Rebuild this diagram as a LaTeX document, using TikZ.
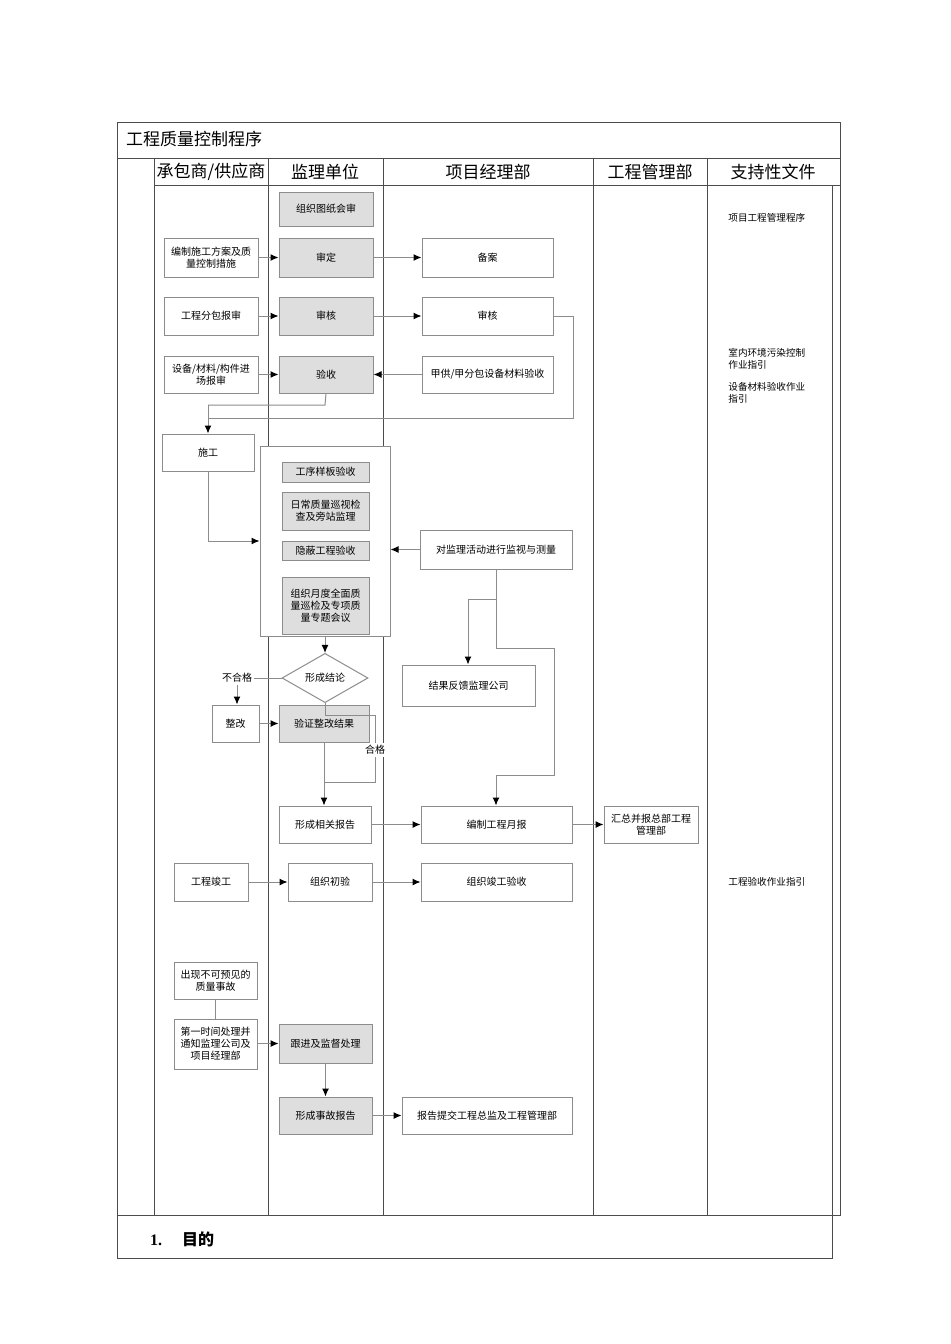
\documentclass[tikz,border=0pt]{standalone}
\usepackage{fontspec}
\setmainfont{Liberation Serif}
\newfontfamily\cjk{Noto Sans CJK SC}
\usetikzlibrary{shapes.geometric,arrows.meta}
\begin{document}
\begin{tikzpicture}[x=0.5pt,y=-0.5pt,
  frame/.style={draw=black!70,line width=0.5pt},
  bx/.style={draw=black!45,line width=0.5pt,fill=white,font=\cjk\fontsize{5}{6}\selectfont,align=center,inner sep=1pt},
  gbx/.style={bx,fill=black!13},
  hd/.style={font=\cjk\fontsize{8.5}{10}\selectfont},
  sup/.style={font=\cjk\fontsize{4.8}{6}\selectfont,align=left,anchor=north west,inner sep=0pt},
  ln/.style={draw=black!45,line width=0.5pt},
  ar/.style={ln,-{Latex[length=4pt,width=3.5pt,black]}}]
\useasboundingbox (0,0) rectangle (950,1344);
% frame
\draw[frame] (117,122) rectangle (840,1215);
\draw[frame] (117,158) -- (840,158);
\draw[frame] (154,185) -- (840,185);
\foreach \x in {154,268,383,593,707}{\draw[frame] (\x,158) -- (\x,1215);}
\draw[frame] (832,185) -- (832,1215);
\draw[frame] (117,1215) rectangle (832,1258);
\node[hd,anchor=west] (title) at (119,139) {工程质量控制程序};
\node[hd] (h1) at (211,172) {承包商/供应商};
\node[hd] (h2) at (325,172) {监理单位};
\node[hd] (h3) at (488,172) {项目经理部};
\node[hd] (h4) at (650,172) {工程管理部};
\node[hd] (h5) at (773,172) {支持性文件};
\node[anchor=west,font=\fontsize{8}{10}\selectfont\bfseries] (mu) at (143,1239) {1.\hspace{10pt}{\cjk 目的}};
% support docs
\node[sup] (s1) at (728,213) {项目工程管理程序};
\node[sup] (s2) at (728,348) {室内环境污染控制\\作业指引};
\node[sup] (s3) at (728,382) {设备材料验收作业\\指引};
\node[sup] (s4) at (728,877) {工程验收作业指引};
% nodes helper: corners
\def\bxat#1#2#3#4#5#6{\node[#1,minimum width=#4*0.5pt-#2*0.5pt,minimum height=#6*0.5pt-#5*0.5pt] (#3) at ({(#2+#4)/2},{(#5+#6)/2})}
\bxat{gbx}{279}{a1}{373}{192}{226} {组织图纸会审};
\bxat{bx}{164}{c1}{258}{238}{277} {编制施工方案及质\\量控制措施};
\bxat{gbx}{279}{a2}{373}{238}{277} {审定};
\bxat{bx}{422}{p1}{553}{238}{277} {备案};
\bxat{bx}{164}{c2}{258}{297}{335} {工程分包报审};
\bxat{gbx}{279}{a3}{373}{297}{335} {审核};
\bxat{bx}{422}{p2}{553}{297}{335} {审核};
\bxat{bx}{164}{c3}{258}{356}{393} {设备/材料/构件进\\场报审};
\bxat{gbx}{279}{a4}{373}{356}{393} {验收};
\bxat{bx}{422}{p3}{553}{356}{393} {甲供/甲分包设备材料验收};
\bxat{bx}{162}{c4}{254}{434}{471} {施工};
\bxat{bx}{260}{box}{390}{446}{636} {};
\bxat{gbx}{282}{b1}{369}{462}{482} {工序样板验收};
\bxat{gbx}{282}{b2}{369}{492}{530} {日常质量巡视检\\查及旁站监理};
\bxat{gbx}{282}{b3}{369}{541}{560} {隐蔽工程验收};
\bxat{gbx}{282}{b4}{369}{577}{634} {组织月度全面质\\量巡检及专项质\\量专题会议};
\bxat{bx}{420}{p4}{572}{530}{569} {对监理活动进行监视与测量};
\node[diamond,bx,minimum width=43pt,minimum height=18pt,inner sep=0pt] (d) at (325,678) {形成结论};
\node[font=\cjk\fontsize{5}{6}\selectfont,inner sep=1pt] (bhg) at (237,678) {不合格};
\bxat{bx}{212}{c5}{259}{705}{742} {整改};
\bxat{gbx}{279}{a5}{369}{705}{742} {验证整改结果};
\node[font=\cjk\fontsize{5}{6}\selectfont,inner sep=1pt,fill=white] (hg) at (375,750) {合格};
\bxat{bx}{402}{p5}{535}{665}{706} {结果反馈监理公司};
\bxat{bx}{279}{a6}{371}{806}{843} {形成相关报告};
\bxat{bx}{421}{p6}{572}{806}{843} {编制工程月报};
\bxat{bx}{604}{m1}{698}{806}{843} {汇总并报总部工程\\管理部};
\bxat{bx}{174}{c6}{248}{863}{901} {工程竣工};
\bxat{bx}{288}{a7}{372}{863}{901} {组织初验};
\bxat{bx}{421}{p7}{572}{863}{901} {组织竣工验收};
\bxat{bx}{174}{c7}{257}{962}{999} {出现不可预见的\\质量事故};
\bxat{bx}{174}{c8}{257}{1019}{1069} {第一时间处理并\\通知监理公司及\\项目经理部};
\bxat{gbx}{279}{a8}{372}{1024}{1063} {跟进及监督处理};
\bxat{gbx}{279}{a9}{372}{1097}{1134} {形成事故报告};
\bxat{bx}{402}{p8}{572}{1097}{1134} {报告提交工程总监及工程管理部};
% connectors
\draw[ar] (c1) -- (a2);
\draw[ar] (a2) -- (p1);
\draw[ar] (c2) -- (a3);
\draw[ar] (a3) -- (p2);
\draw[ar] (c3) -- (a4);
\draw[ar] (p3) -- (a4);
\draw[ln] (p2.east) -- (573,316) -- (573,418) -- (208,418);
\draw[ln] (a4.south) -- (325,405) -- (208,405);
\draw[ar] (208,405) -- (c4.north);
\draw[ar] (c4.south) |- (box.west);
\draw[ar] (p4.west) -- (box.east |- p4.west);
\draw[ar] (box.south) -- (d.north);
\draw[ln] (d.west) -- (bhg.east);
\draw[ar] (bhg.south) -- (c5.north -| bhg.south);
\draw[ar] (c5) -- (a5);
\draw[ln] (d.south) -- (325,715) -- (375,715) -- (hg.north);
\draw[ln] (hg.south) -- (375,782) -- (325,782);
\draw[ar] (a5.south) -- (a6.north -| a5.south);
\draw[ln] (p4.south) -- (496,599) -- (468,599);
\draw[ar] (468,599) -- (p5.north -| 468,0);
\draw[ln] (496,599) -- (496,648) -- (554,648) -- (554,775) -- (496,775);
\draw[ar] (496,775) -- (p6.north -| 496,0);
\draw[ar] (a6) -- (p6);
\draw[ar] (p6) -- (m1);
\draw[ar] (c6) -- (a7);
\draw[ar] (a7) -- (p7);
\draw[ln] (c7.south -| 215,0) -- (c8.north -| 215,0);
\draw[ar] (c8.east |- a8.west) -- (a8.west);
\draw[ar] (a8) -- (a9);
\draw[ar] (a9) -- (p8);
\end{tikzpicture}
\end{document}
